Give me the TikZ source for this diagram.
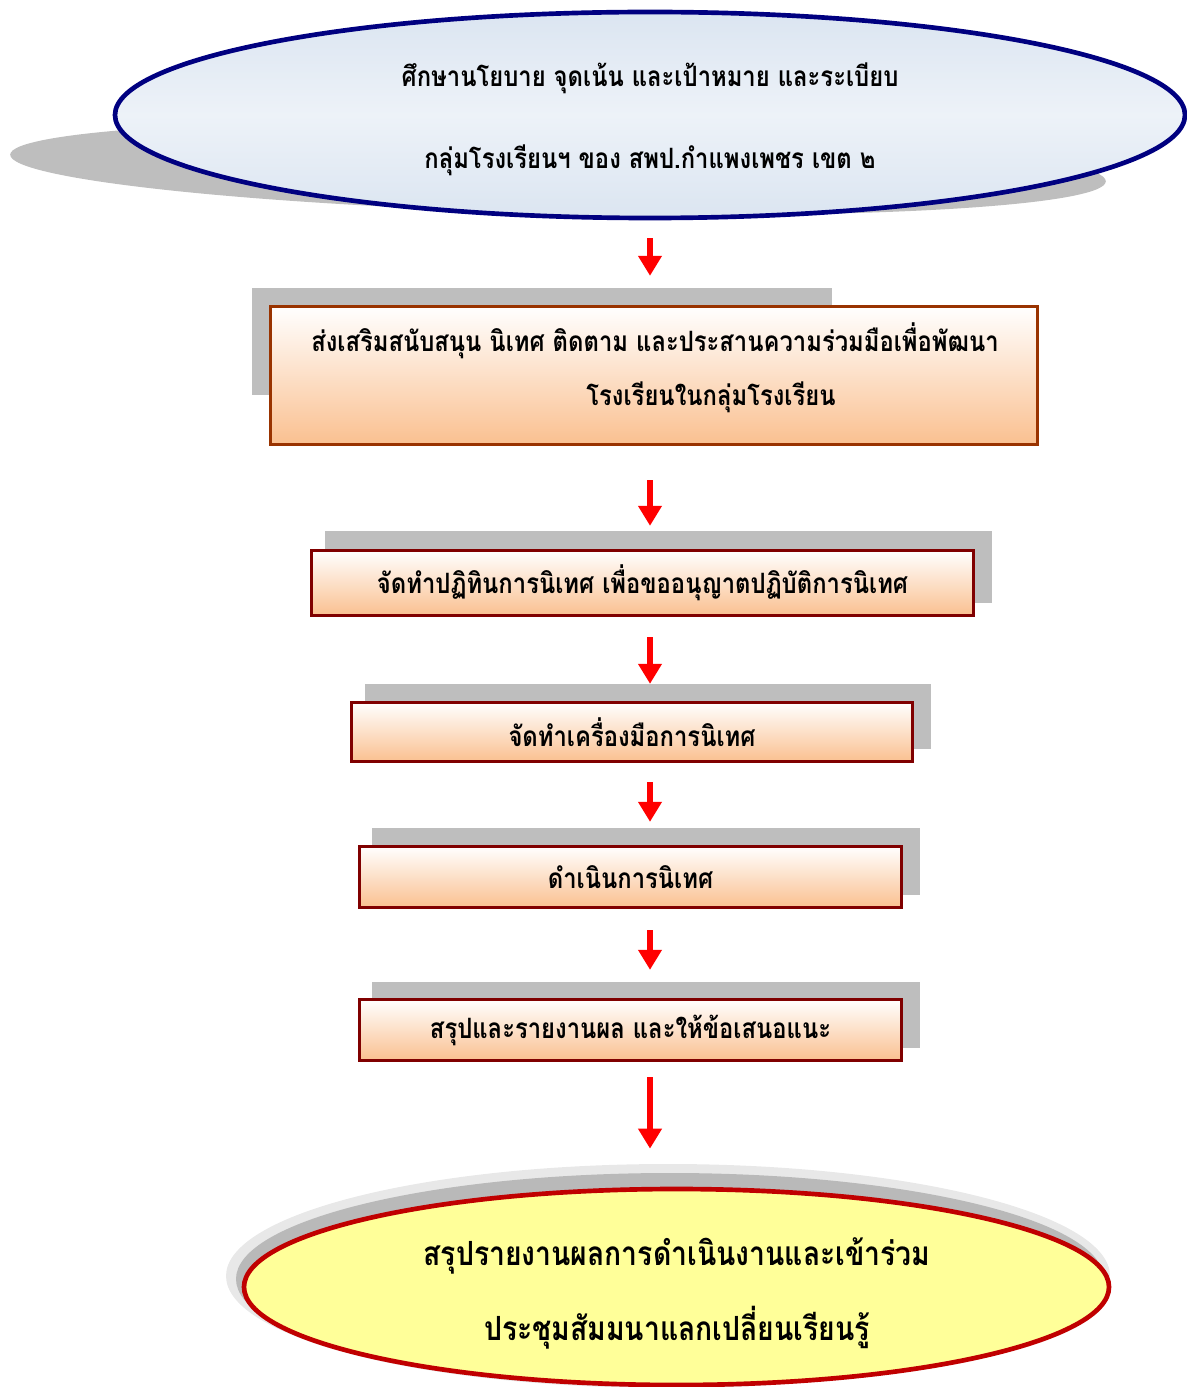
\documentclass[tikz,border=0pt]{standalone}
\usepackage{fontspec}
\newfontfamily\thaifont[Script=Thai, FakeStretch=0.85]{Loma}
\usepackage{tikz}
\usetikzlibrary{shapes.geometric, arrows.meta, calc}
\definecolor{ovalnavy}{RGB}{0,0,128}
\definecolor{ovalblue}{RGB}{219,229,241}
\definecolor{ovalyellow}{RGB}{255,255,153}
\definecolor{ovalred}{RGB}{192,0,0}
\definecolor{boxbrown}{RGB}{153,51,0}
\definecolor{boxmaroon}{RGB}{128,0,0}
\definecolor{boxpeach}{RGB}{250,192,144}
\definecolor{shadowgray}{RGB}{190,190,190}
\tikzset{
    flowbox/.style={rectangle, draw=#1, line width=2.5pt, top color=white, bottom color=boxpeach, inner sep=0pt, font=\thaifont\bfseries\fontsize{21}{24}\selectfont},
    flowsize/.style 2 args={minimum width=#1*0.75pt, minimum height=#2*0.75pt},
    flowoval/.style={ellipse, draw=#1, line width=3.5pt, inner sep=0pt},
    flowtext/.style={font=\thaifont\bfseries\fontsize{21}{24}\selectfont, inner sep=0pt},
    flowbigtext/.style={font=\thaifont\bfseries\fontsize{25}{28}\selectfont, inner sep=0pt},
    flowshadow/.style={fill=shadowgray, draw=none},
    flowarrow/.style={-{Triangle[length=15pt, width=17pt]}, red, line width=5pt}
}

\begin{document}
\begin{tikzpicture}[x=0.75pt, y=-0.75pt]
\useasboundingbox (0,0) rectangle (1187,1387);

% shadows
\fill[flowshadow, rotate around={-1.4:(558,168)}] (558,168) ellipse [x radius=548, y radius=45];
\fill[flowshadow] (252,288) rectangle (832,395);
\fill[flowshadow] (325,531) rectangle (992,603);
\fill[flowshadow] (365,684) rectangle (931,749);
\fill[flowshadow] (372,828) rectangle (920,895);
\fill[flowshadow] (372,982) rectangle (920,1048);
\fill[gray!18] (668,1276) ellipse [x radius=442, y radius=112];
\fill[gray!55] (670,1279) ellipse [x radius=434, y radius=106];

% top oval
\node[flowoval=ovalnavy, flowsize={1070}{206}, top color=ovalblue, bottom color=ovalblue, middle color=ovalblue!50] (top) at (650,115) {};
\node[flowtext] (topa) at (650,78) {ศึกษานโยบาย จุดเน้น และเป้าหมาย และระเบียบ};
\node[flowtext] (topb) at (650,160) {กลุ่มโรงเรียนฯ ของ สพป.กำแพงเพชร เขต ๒};

% steps
\node[flowbox=boxbrown, flowsize={767}{138}] (s1) at (654,375.5) {};
\node[flowtext] (s1a) at (655,341) {ส่งเสริมสนับสนุน นิเทศ ติดตาม และประสานความร่วมมือเพื่อพัฒนา};
\node[flowtext] (s1b) at (711,397) {โรงเรียนในกลุ่มโรงเรียน};
\node[flowbox=boxmaroon, flowsize={662}{65}] (s2) at (642.5,583) {จัดทำปฏิทินการนิเทศ เพื่อขออนุญาตปฏิบัติการนิเทศ};
\node[flowbox=boxmaroon, flowsize={561}{59}] (s3) at (632,732) {จัดทำเครื่องมือการนิเทศ};
\node[flowbox=boxmaroon, flowsize={542}{61}] (s4) at (630.5,877) {ดำเนินการนิเทศ};
\node[flowbox=boxmaroon, flowsize={542}{61}] (s5) at (630.5,1030) {สรุปและรายงานผล และให้ข้อเสนอแนะ};

% bottom oval
\node[flowoval=ovalred, flowsize={865}{196}, fill=ovalyellow] (end) at (676.5,1287) {};
\node[flowbigtext] (enda) at (677,1256) {สรุปรายงานผลการดำเนินงานและเข้าร่วม};
\node[flowbigtext] (endb) at (677,1328) {ประชุมสัมมนาแลกเปลี่ยนเรียนรู้};

% arrows
\coordinate (axis) at (650,0);
\draw[flowarrow, shorten <=13.5pt, shorten >=21.75pt] (top.south -| axis) -- (s1.north -| axis);
\draw[flowarrow, shorten <=25.5pt, shorten >=17.25pt] (s1.south -| axis) -- (s2.north -| axis);
\draw[flowarrow, shorten <=15pt, shorten >=12.75pt] (s2.south -| axis) -- (s3.north -| axis);
\draw[flowarrow, shorten <=14.25pt, shorten >=17.25pt] (s3.south -| axis) -- (s4.north -| axis);
\draw[flowarrow, shorten <=15.75pt, shorten >=21pt] (s4.south -| axis) -- (s5.north -| axis);
\draw[flowarrow, shorten <=11.25pt, shorten >=28.5pt] (s5.south -| axis) -- (end.north -| axis);

\end{tikzpicture}
\end{document}
